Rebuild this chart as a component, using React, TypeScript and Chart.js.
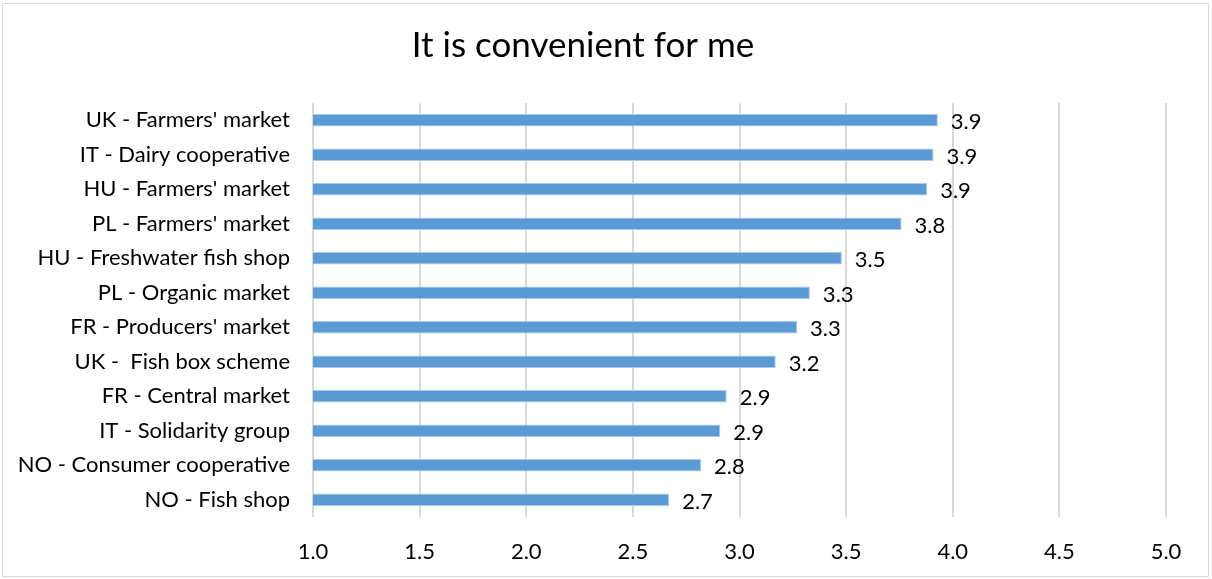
import React, { useEffect, useRef } from "react";
import { Chart, registerables } from "chart.js";

Chart.register(...registerables);

const categories = [
  "UK - Farmers' market",
  "IT - Dairy cooperative",
  "HU - Farmers' market",
  "PL - Farmers' market",
  "HU - Freshwater fish shop",
  "PL - Organic market",
  "FR - Producers' market",
  "UK -  Fish box scheme",
  "FR - Central market",
  "IT - Solidarity group",
  "NO - Consumer cooperative",
  "NO - Fish shop",
];
const values = [3.93, 3.91, 3.88, 3.76, 3.48, 3.33, 3.27, 3.17, 2.94, 2.91, 2.82, 2.67];
const xTicks = [1.0, 1.5, 2.0, 2.5, 3.0, 3.5, 4.0, 4.5, 5.0];
const title = "It is convenient for me";

const FONT = "Lato, 'Open Sans', sans-serif";

const valueLabels = {
  id: "valueLabels",
  afterDatasetsDraw(chart: any) {
    const ctx = chart.ctx;
    const meta = chart.getDatasetMeta(0);
    ctx.save();
    ctx.font = `22px ${FONT}`;
    ctx.fillStyle = "#000";
    ctx.textAlign = "left";
    ctx.textBaseline = "middle";
    meta.data.forEach((bar: any, i: number) => {
      const v = chart.data.datasets[0].data[i] as number;
      ctx.fillText(v.toFixed(1), bar.x + 13, bar.y + 2);
    });
    ctx.restore();
  },
};

export default function App() {
  const ref = useRef<HTMLCanvasElement>(null);
  useEffect(() => {
    document.body.style.margin = "0";
    const chart = new Chart(ref.current!, {
      type: "bar",
      data: {
        labels: categories,
        datasets: [
          {
            data: values,
            backgroundColor: "#5b9bd5",
            borderColor: "#a9c9ec",
            borderWidth: 1,
            barPercentage: 0.72,
            categoryPercentage: 0.5,
          },
        ],
      },
      options: {
        indexAxis: "y",
        animation: false,
        responsive: false,
        maintainAspectRatio: false,
        layout: { padding: { left: 0, right: 46, top: 0, bottom: 0 } },
        plugins: {
          legend: { display: false },
          tooltip: { enabled: false },
          title: {
            display: true,
            text: title,
            color: "#000",
            font: { family: FONT, size: 35, weight: "normal" },
            padding: { top: 25, bottom: 36 },
          },
        },
        scales: {
          x: {
            min: 1,
            max: 5,
            afterBuildTicks(scale: any) {
              scale.ticks = xTicks.map((v) => ({ value: v }));
            },
            afterFit(scale: any) {
              scale.height = 62;
            },
            ticks: {
              color: "#000",
              font: { family: FONT, size: 22 },
              padding: 22,
              callback: (v: any) => Number(v).toFixed(1),
            },
            grid: { color: "#d9d9d9", lineWidth: 2, drawTicks: false },
            border: { display: false },
          },
          y: {
            afterFit(scale: any) {
              scale.width = 313;
            },
            ticks: {
              color: "#000",
              font: { family: FONT, size: 22 },
              padding: 23,
            },
            grid: { display: false, drawTicks: false },
            border: { display: false },
          },
        },
      },
      plugins: [valueLabels],
    });
    return () => chart.destroy();
  }, []);
  return (
    <div style={{ position: "relative", width: 1212, height: 579 }}>
      <div
        style={{
          position: "absolute",
          left: 2,
          top: 3,
          width: 1207,
          height: 574,
          border: "1px solid #d9d9d9",
          boxSizing: "border-box",
        }}
      />
      <canvas ref={ref} width={1212} height={579} style={{ position: "absolute", left: 0, top: 0 }} />
    </div>
  );
}
